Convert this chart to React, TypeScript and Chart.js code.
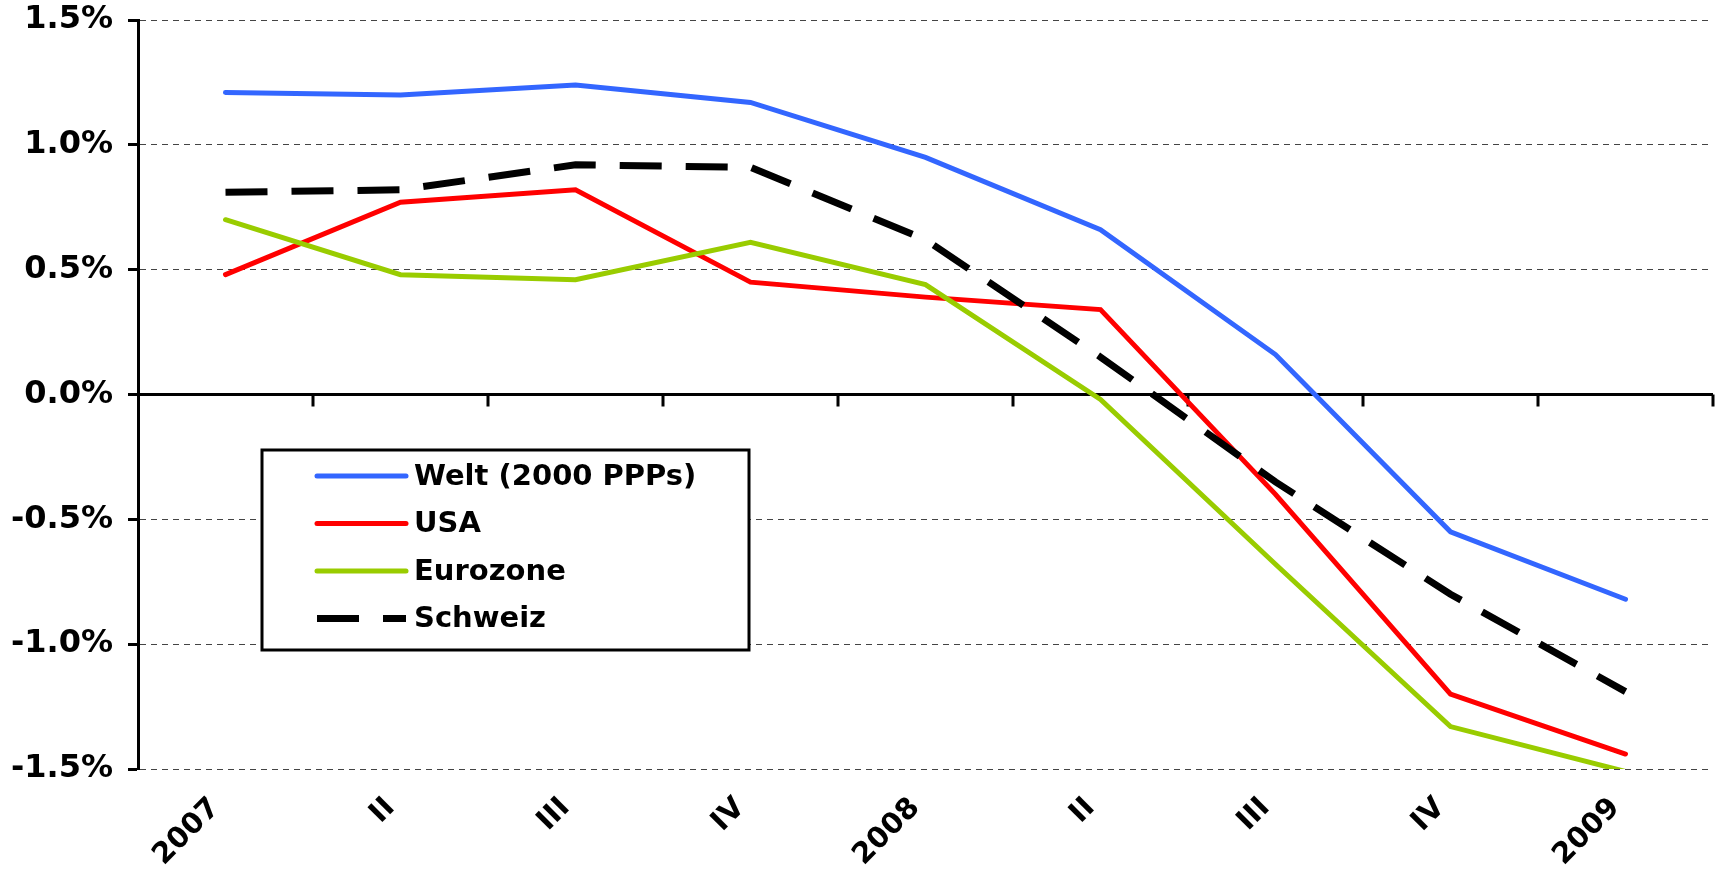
import React, { useEffect, useRef } from "react";
import { Chart, registerables } from "chart.js";

Chart.register(...registerables);

const categories = ["2007", "II", "III", "IV", "2008", "II", "III", "IV", "2009"];
const seriesNames = ["Welt (2000 PPPs)", "USA", "Eurozone", "Schweiz"];
const welt = [1.21, 1.2, 1.24, 1.17, 0.95, 0.66, 0.16, -0.55, -0.82];
const usa = [0.48, 0.77, 0.82, 0.45, 0.39, 0.34, -0.4, -1.2, -1.44];
const eurozone = [0.7, 0.48, 0.46, 0.61, 0.44, -0.02, -0.68, -1.33, -1.51];
const schweiz = [0.81, 0.82, 0.92, 0.91, 0.62, 0.15, -0.35, -0.8, -1.19];
const yMin = -1.5;
const yMax = 1.5;
const yStep = 0.5;

const FONT = "'DejaVu Sans', Verdana, sans-serif";

const zeroAxisPlugin = {
  id: "zeroAxis",
  beforeDatasetsDraw(chart: any) {
    const { ctx, chartArea, scales } = chart;
    const x = scales.x;
    const y = scales.y;
    const y0 = y.getPixelForValue(0);
    ctx.save();
    ctx.strokeStyle = "#000";
    ctx.lineWidth = 3;
    ctx.lineCap = "butt";
    ctx.beginPath();
    ctx.moveTo(chartArea.left, y0);
    ctx.lineTo(chartArea.right, y0);
    for (let i = 1; i <= categories.length; i++) {
      const px = x.getPixelForValue(i - 0.5);
      ctx.moveTo(px, y0);
      ctx.lineTo(px, y0 + 12);
    }
    ctx.stroke();
    ctx.restore();
  },
};

const boxLegendPlugin = {
  id: "boxLegend",
  afterDraw(chart: any) {
    const { ctx, chartArea } = chart;
    const left = chartArea.left + 124;
    const top = chartArea.top + 430;
    const w = 487;
    const h = 200;
    ctx.save();
    ctx.fillStyle = "#fff";
    ctx.fillRect(left, top, w, h);
    ctx.strokeStyle = "#000";
    ctx.lineWidth = 3;
    ctx.setLineDash([]);
    ctx.strokeRect(left, top, w, h);
    chart.data.datasets.forEach((ds: any, i: number) => {
      const cy = top + 26 + i * 47.5;
      ctx.beginPath();
      ctx.strokeStyle = ds.borderColor;
      ctx.lineWidth = ds.borderWidth;
      ctx.setLineDash(ds.borderDash || []);
      ctx.lineCap = ds.borderDash ? "butt" : "round";
      ctx.moveTo(left + 55, cy);
      ctx.lineTo(left + 144, cy);
      ctx.stroke();
      ctx.setLineDash([]);
      ctx.fillStyle = "#000";
      ctx.font = `bold 29px ${FONT}`;
      ctx.textAlign = "left";
      ctx.textBaseline = "middle";
      ctx.fillText(ds.label, left + 152, cy + 1);
    });
    ctx.restore();
  },
};

export default function App() {
  const canvasRef = useRef<HTMLCanvasElement | null>(null);

  useEffect(() => {
    if (!canvasRef.current) return;
    const chart = new Chart(canvasRef.current, {
      type: "line",
      data: {
        labels: categories,
        datasets: [
          {
            label: seriesNames[0],
            data: welt,
            borderColor: "#3366FF",
            borderWidth: 5,
            borderCapStyle: "round",
            pointRadius: 0,
            tension: 0,
            order: 3,
          },
          {
            label: seriesNames[1],
            data: usa,
            borderColor: "#FF0000",
            borderWidth: 5,
            borderCapStyle: "round",
            pointRadius: 0,
            tension: 0,
            order: 2,
          },
          {
            label: seriesNames[2],
            data: eurozone,
            borderColor: "#99CC00",
            borderWidth: 5,
            borderCapStyle: "round",
            pointRadius: 0,
            tension: 0,
            order: 1,
          },
          {
            label: seriesNames[3],
            data: schweiz,
            borderColor: "#000000",
            borderWidth: 7,
            borderDash: [42, 24],
            borderCapStyle: "butt",
            pointRadius: 0,
            tension: 0,
            order: 0,
          },
        ],
      },
      options: {
        responsive: false,
        animation: false,
        layout: { padding: { left: 0, top: 20, right: 9, bottom: 0 } },
        plugins: {
          legend: { display: false },
          tooltip: { enabled: false },
        },
        scales: {
          x: {
            type: "category",
            offset: true,
            grid: { display: false, drawTicks: false },
            border: { display: false },
            ticks: {
              autoSkip: false,
              maxRotation: 45,
              minRotation: 45,
              padding: 22,
              labelOffset: -10,
              color: "#000",
              font: { family: FONT, size: 29, weight: "bold" },
            },
            afterFit(scale: any) {
              scale.height = 109;
              scale.paddingLeft = 0;
              scale.paddingRight = 0;
            },
          },
          y: {
            min: yMin,
            max: yMax,
            ticks: {
              stepSize: yStep,
              padding: 15,
              color: "#000",
              font: { family: FONT, size: 32, weight: "bold" },
              callback: (v: any) => Number(v).toFixed(1) + "%",
            },
            grid: {
              color: "#444",
              lineWidth: 1,
              drawTicks: true,
              tickLength: 10,
              tickColor: "#000",
              tickWidth: 3,
            },
            border: { display: true, color: "#000", width: 3, dash: [6, 5] },
            afterFit(scale: any) {
              scale.width = 138;
              scale.paddingTop = 0;
              scale.paddingBottom = 0;
            },
          },
        },
      },
      plugins: [zeroAxisPlugin, boxLegendPlugin],
    } as any);
    return () => chart.destroy();
  }, []);

  return (
    <div style={{ position: "absolute", left: 0, top: 0, width: 1722, height: 878, background: "#fff" }}>
      <canvas ref={canvasRef} width={1722} height={878} style={{ display: "block" }} />
    </div>
  );
}
